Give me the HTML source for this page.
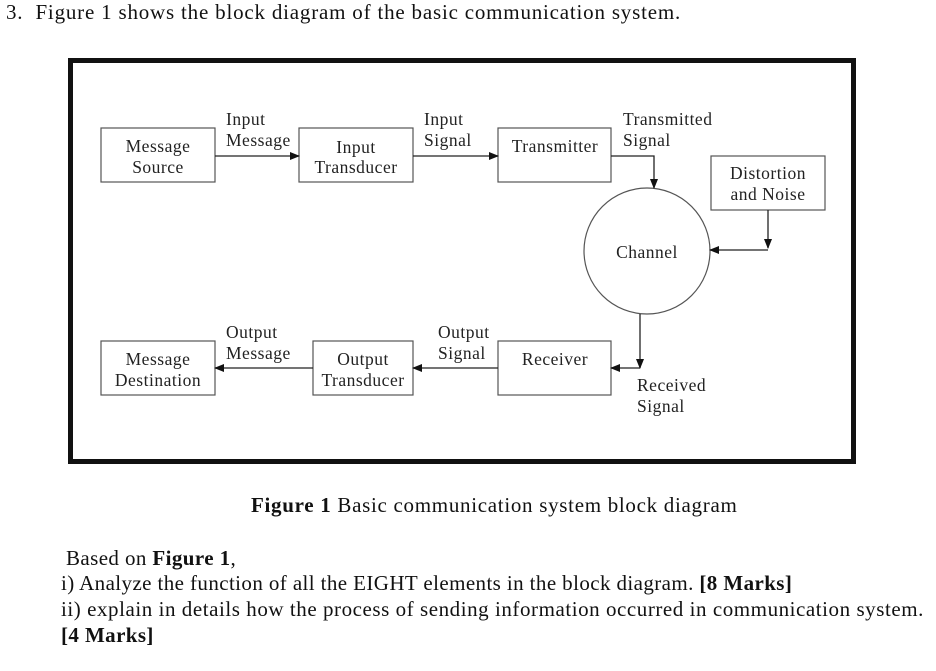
<!DOCTYPE html>
<html><head><style>
body{margin:0;background:#fff;width:936px;height:671px;overflow:hidden;font-family:"Liberation Serif",serif;color:#111}
.t{position:absolute;white-space:nowrap;font-size:21px}
</style></head><body>
<div class="t" style="left:6px;top:0px;letter-spacing:0.8px">3.&nbsp; Figure 1 shows the block diagram of the basic communication system.</div>
<svg width="936" height="671" style="position:absolute;left:0;top:0" font-family="Liberation Serif,serif" font-size="17.5" letter-spacing="0.5" fill="#222">
<defs><marker id="a" markerWidth="10" markerHeight="8" refX="9" refY="4" orient="auto" markerUnits="userSpaceOnUse"><path d="M0,0L10,4L0,8z" fill="#111"/></marker></defs>
<rect x="70.5" y="60.5" width="783" height="401" fill="none" stroke="#111" stroke-width="5"/>
<g fill="none" stroke="#555" stroke-width="1.2">
<rect x="101" y="128" width="114" height="54"/>
<rect x="299" y="128" width="114" height="54"/>
<rect x="498" y="128" width="113" height="54"/>
<rect x="711" y="156" width="114" height="54"/>
<circle cx="647" cy="251" r="63"/>
<rect x="498" y="341" width="113" height="54"/>
<rect x="313" y="341" width="100" height="54"/>
<rect x="101" y="341" width="114" height="54"/>
</g>
<g fill="none" stroke="#222" stroke-width="1.3">
<path d="M215,156H299" marker-end="url(#a)"/>
<path d="M413,156H498" marker-end="url(#a)"/>
<path d="M611,156H654V188" marker-end="url(#a)"/>
<path d="M768,210V248" marker-end="url(#a)"/>
<path d="M768,250H710" marker-end="url(#a)"/>
<path d="M640,314V368" marker-end="url(#a)"/>
<path d="M640,368H611" marker-end="url(#a)"/>
<path d="M498,368H413" marker-end="url(#a)"/>
<path d="M313,368H215" marker-end="url(#a)"/>
</g>
<g text-anchor="middle">
<text x="158" y="152">Message</text><text x="158" y="173">Source</text>
<text x="356" y="153">Input</text><text x="356" y="173">Transducer</text>
<text x="555" y="152">Transmitter</text>
<text x="768" y="179">Distortion</text><text x="768" y="200">and Noise</text>
<text x="647" y="258">Channel</text>
<text x="555" y="365">Receiver</text>
<text x="363" y="365">Output</text><text x="363" y="386">Transducer</text>
<text x="158" y="365">Message</text><text x="158" y="386">Destination</text>
</g>
<text x="226" y="125">Input</text><text x="226" y="146">Message</text>
<text x="424" y="125">Input</text><text x="424" y="146">Signal</text>
<text x="623" y="125">Transmitted</text><text x="623" y="146">Signal</text>
<text x="226" y="338">Output</text><text x="226" y="359">Message</text>
<text x="438" y="338">Output</text><text x="438" y="359">Signal</text>
<text x="637" y="391">Received</text><text x="637" y="412">Signal</text>
</svg>
<div class="t" style="left:251px;top:493px;letter-spacing:0.7px"><b>Figure 1</b> Basic communication system block diagram</div>
<div class="t" style="left:66px;top:546px;letter-spacing:0.4px">Based on <b>Figure 1</b>,</div>
<div class="t" style="left:61px;top:571px;letter-spacing:0.4px">i) Analyze the function of all the EIGHT elements in the block diagram. <b>[8 Marks]</b></div>
<div class="t" style="left:61px;top:597px;letter-spacing:0.55px">ii) explain in details how the process of sending information occurred in communication system.</div>
<div class="t" style="left:61px;top:623px;letter-spacing:0.4px"><b>[4 Marks]</b></div>
</body></html>
